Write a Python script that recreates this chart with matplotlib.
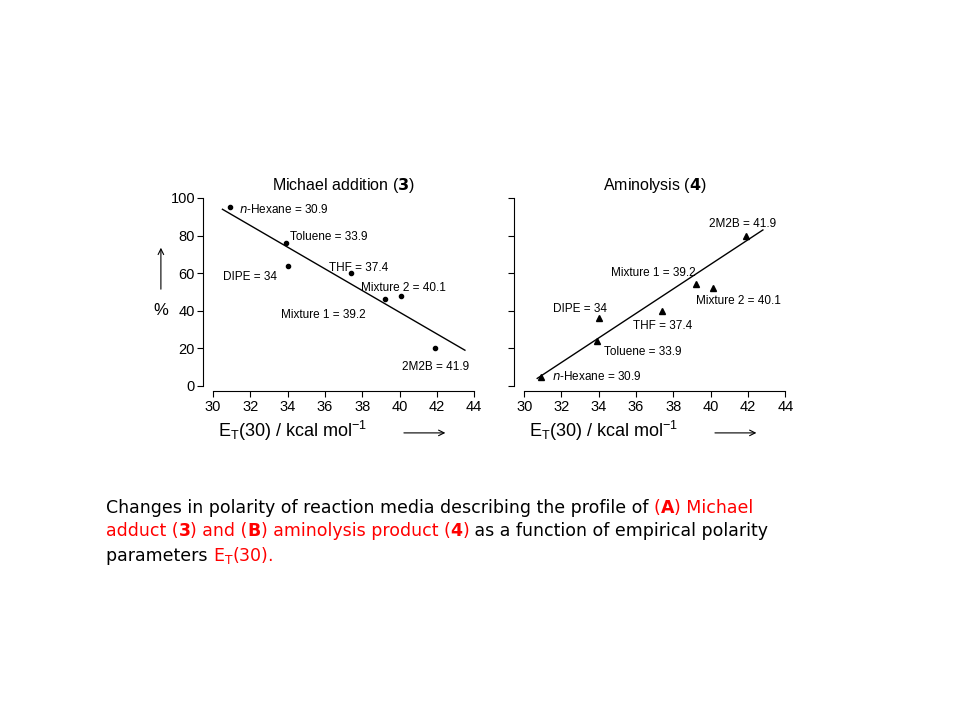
import matplotlib
matplotlib.use("Agg")
import matplotlib.pyplot as plt
import numpy as np

solvents = ["n-Hexane", "Toluene", "DIPE", "THF", "Mixture 1", "Mixture 2", "2M2B"]
et30 = [30.9, 33.9, 34.0, 37.4, 39.2, 40.1, 41.9]
michael = [95, 76, 64, 60, 46, 48, 20]
aminolysis = [5, 24, 36, 40, 54, 52, 80]
fit_m_x = [30.5, 43.5]; fit_m_y = [94, 19]
fit_a_x = [30.7, 42.8]; fit_a_y = [4, 83]
xticks = list(range(30, 46, 2))
yticks = list(range(0, 101, 20))

plt.rcParams['font.family'] = ['Liberation Sans', 'DejaVu Sans']
fig = plt.figure(figsize=(9.6, 7.2), dpi=100)
fig.patch.set_facecolor("white")
axL = fig.add_axes([0.222, 0.464, 0.272, 0.261])
axR = fig.add_axes([0.546, 0.464, 0.272, 0.261])

def style(ax, ylabels):
    ax.set_xlim(30, 44); ax.set_ylim(0, 100)
    ax.set_xticks(xticks); ax.set_yticks(yticks)
    for s in ["top", "right"]:
        ax.spines[s].set_visible(False)
    ax.spines["left"].set_position(("outward", 7))
    ax.spines["bottom"].set_position(("outward", 4))
    ax.tick_params(labelsize=10.5, length=4, direction="out", pad=2)
    if not ylabels:
        ax.set_yticklabels([])
    ax.text(0.02, -0.24, r"E$_\mathregular{T}$(30) / kcal mol$^{\mathregular{-1}}$",
            transform=ax.transAxes, fontsize=13, va="center", ha="left")
    ax.annotate("", xy=(0.90, -0.25), xytext=(0.72, -0.25), xycoords="axes fraction",
                arrowprops=dict(arrowstyle="->", lw=0.8, color="black"))

style(axL, True); style(axR, False)

axL.plot(et30, michael, "o", color="black", ms=3)
axL.plot(fit_m_x, fit_m_y, color="black", lw=1)
axR.plot(et30, aminolysis, "^", color="black", ms=4)
axR.plot(fit_a_x, fit_a_y, color="black", lw=1)

axL.set_title("Michael addition ($\\bf{3}$)", fontsize=11.5, pad=6)
axR.set_title("Aminolysis ($\\bf{4}$)", fontsize=11.5, pad=6)

fs = 8.5
def lab(s, v):
    if s == "n-Hexane":
        return "$\\it{n}$-Hexane = %g" % v
    return "%s = %g" % (s, v)
offL = {"n-Hexane": (31.4, 94, "left"), "Toluene": (34.1, 79, "left"), "DIPE": (33.4, 58, "right"),
        "THF": (37.8, 63, "center"), "Mixture 1": (38.2, 38, "right"), "Mixture 2": (40.2, 52, "center"),
        "2M2B": (41.9, 10, "center")}
offR = {"n-Hexane": (31.5, 5, "left"), "Toluene": (34.3, 18, "left"), "DIPE": (33.0, 41, "center"),
        "THF": (37.4, 32, "center"), "Mixture 1": (39.2, 60, "right"), "Mixture 2": (41.5, 45, "center"),
        "2M2B": (41.7, 86, "center")}
for s, v in zip(solvents, et30):
    x, y, ha = offL[s]
    axL.text(x, y, lab(s, v), fontsize=fs, ha=ha, va="center")
    x, y, ha = offR[s]
    axR.text(x, y, lab(s, v), fontsize=fs, ha=ha, va="center")

axL.text(-0.2, 0.4, "%", transform=axL.transAxes, fontsize=12, ha="center", va="center")
axL.annotate("", xy=(-0.2, 0.75), xytext=(-0.2, 0.5), xycoords="axes fraction",
             arrowprops=dict(arrowstyle="->", lw=0.8, color="black"))

# caption
lines = [
    [("Changes in polarity of reaction media describing the profile of ", "black"), ("(", "red"),
     ("A", "red", "bold"), (") Michael", "red")],
    [("adduct (", "red"), ("3", "red", "bold"), (") and (", "red"), ("B", "red", "bold"),
     (") aminolysis product (", "red"), ("4", "red", "bold"), (")", "red"),
     (" as a function of empirical polarity", "black")],
    [("parameters ", "black"), ("E$_\\mathregular{T}$(30).", "red")],
]
fig.canvas.draw()
r = fig.canvas.get_renderer()
ys = [0.295, 0.262, 0.228]
for line, y in zip(lines, ys):
    x = 106 / 960
    for piece in line:
        t = fig.text(x, y, piece[0], color=piece[1], fontsize=12.5, family="DejaVu Sans",
                     fontweight=piece[2] if len(piece) > 2 else "normal", va="center", ha="left")
        bb = t.get_window_extent(renderer=r)
        x += bb.width / fig.bbox.width

fig.savefig("out.png", dpi=100, facecolor="white")
